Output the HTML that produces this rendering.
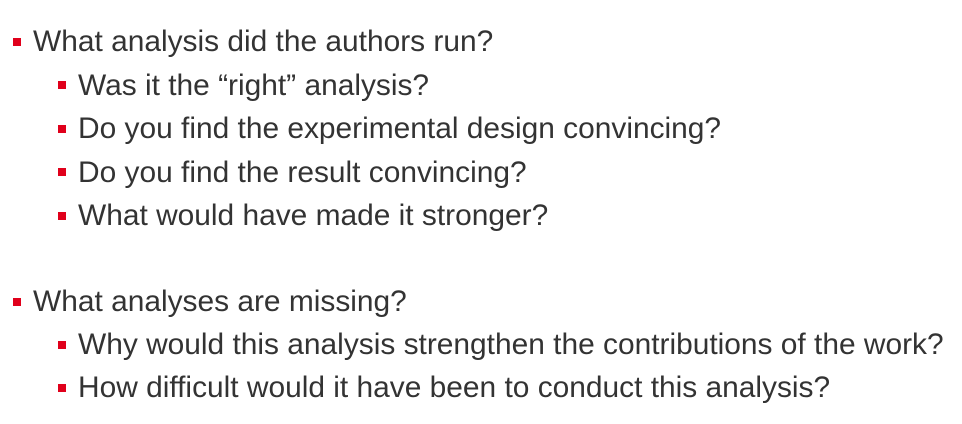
<!DOCTYPE html>
<html><head><meta charset="utf-8"><style>
html,body{margin:0;padding:0;background:#fff;}
body{width:962px;height:424px;position:relative;overflow:hidden;font-family:"Liberation Sans",Arial,sans-serif;color:#333;}
.t{position:absolute;font-size:29.9px;line-height:1;white-space:nowrap;}
.b{position:absolute;width:8px;height:8px;background:#e0001b;}
</style></head><body>
<div class="b" style="left:13px;top:38px"></div><div class="t" style="left:33px;top:27px">What analysis did the authors run?</div>
<div class="b" style="left:58px;top:81px"></div><div class="t" style="left:78px;top:71px">Was it the “right” analysis?</div>
<div class="b" style="left:58px;top:125px"></div><div class="t" style="left:78px;top:114px">Do you find the experimental design convincing?</div>
<div class="b" style="left:58px;top:168px"></div><div class="t" style="left:78px;top:158px">Do you find the result convincing?</div>
<div class="b" style="left:58px;top:212px"></div><div class="t" style="left:78px;top:201px">What would have made it stronger?</div>
<div class="b" style="left:13px;top:298px"></div><div class="t" style="left:33px;top:287px">What analyses are missing?</div>
<div class="b" style="left:58px;top:341px"></div><div class="t" style="left:78px;top:330px">Why would this analysis strengthen the contributions of the work?</div>
<div class="b" style="left:58px;top:384px"></div><div class="t" style="left:78px;top:373px">How difficult would it have been to conduct this analysis?</div>
</body></html>
